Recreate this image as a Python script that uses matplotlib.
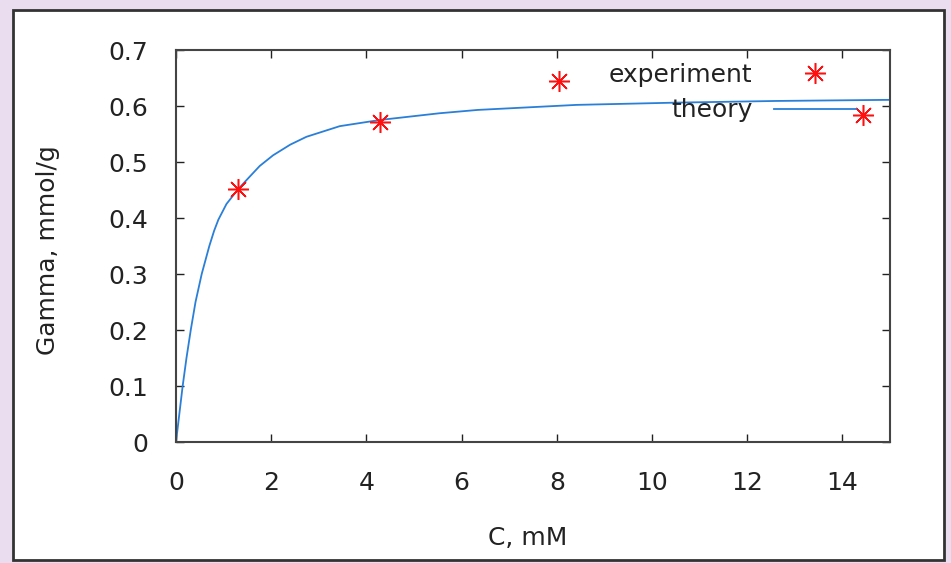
import matplotlib
matplotlib.use("Agg")
import matplotlib.pyplot as plt
from matplotlib.patches import Rectangle

# experiment points (C in mM, Gamma in mmol/g)
exp_c = [1.31, 4.28, 8.05, 14.44]
exp_g = [0.452, 0.572, 0.645, 0.584]

# theory curve
theory_c = [0, 0.07, 0.14, 0.22, 0.31, 0.41, 0.54, 0.70, 0.80, 0.89, 1.06,
            1.31, 1.55, 1.76, 2.04, 2.40, 2.74, 3.44, 4.28, 5.53, 6.34, 8.42,
            10.5, 12.6, 15.0]
theory_g = [0, 0.05, 0.10, 0.15, 0.20, 0.25, 0.30, 0.35, 0.377, 0.397, 0.425,
            0.452, 0.474, 0.493, 0.512, 0.531, 0.545, 0.564, 0.575, 0.587,
            0.593, 0.602, 0.606, 0.609, 0.611]

x_ticks = [0, 2, 4, 6, 8, 10, 12, 14]
y_ticks = [0, 0.1, 0.2, 0.3, 0.4, 0.5, 0.6, 0.7]
y_labels = ["0", "0.1", "0.2", "0.3", "0.4", "0.5", "0.6", "0.7"]

plt.rcParams["font.family"] = ["DejaVu Sans"]
plt.rcParams["font.size"] = 18

fig = plt.figure(figsize=(9.51, 5.63), dpi=100, facecolor="#e9ddef")
# white panel with frame
fig.patches.append(Rectangle((13 / 951, 3 / 563), 931 / 951, 550 / 563,
                             transform=fig.transFigure, facecolor="white",
                             edgecolor="#333333", linewidth=2, zorder=-5))

ax = fig.add_axes([176 / 951, 121 / 563, 714 / 951, 392 / 563])
ax.set_zorder(2)
ax.plot(theory_c, theory_g, color="#2a7fd8", linewidth=1.3, label="theory")
ax.plot(exp_c, exp_g, linestyle="none", marker=(8, 2, 0), markersize=15,
        markeredgewidth=1.1, color="#ff1010", label="experiment")

ax.set_xlim(0, 15)
ax.set_ylim(0, 0.7)
ax.set_xticks(x_ticks)
ax.set_yticks(y_ticks)
ax.set_yticklabels(y_labels)
ax.tick_params(direction="in", top=True, right=True, length=6, width=1,
               color="#222222", labelcolor="#222222")
ax.tick_params(axis="x", pad=21)
ax.tick_params(axis="y", pad=20)
for s in ax.spines.values():
    s.set_color("#444444")
    s.set_linewidth(1.5)

ax.set_xlabel("C, mM", color="#222222")
ax.set_ylabel("Gamma, mmol/g", color="#222222")
ax.xaxis.set_label_coords(0.492, -0.215)
ax.yaxis.set_label_coords(-0.163, 0.49)

handles, labels = ax.get_legend_handles_labels()
ax.legend(handles[::-1], labels[::-1], loc="upper right", frameon=False,
          markerfirst=False, bbox_to_anchor=(0.953, 0.967), borderpad=0,
          borderaxespad=0, handlelength=3.3, handletextpad=0.85,
          labelspacing=0.46, labelcolor="#222222")

fig.savefig("out.png", dpi=100, facecolor=fig.get_facecolor())
